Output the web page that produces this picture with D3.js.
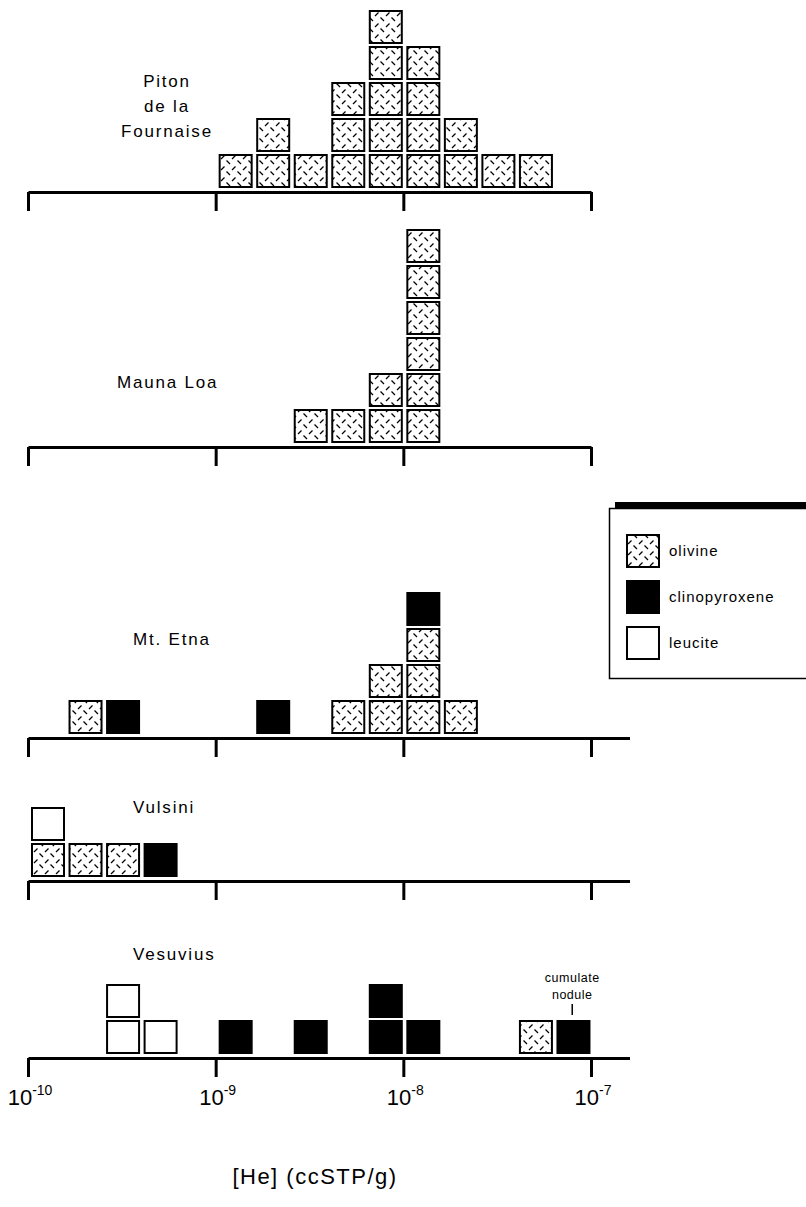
<!DOCTYPE html>
<html>
<head>
<meta charset="utf-8">
<script src="https://d3js.org/d3.v7.min.js"></script>
<style>
  body { margin: 0; background: #fff; }
  text { font-family: "Liberation Sans", Arial, Helvetica, sans-serif; fill: #000; }
</style>
</head>
<body>
<svg width="806" height="1207"></svg>
<script>
// bin centres are log10 of [He] (ccSTP/g); each bin is 0.2 decades wide
const pitonBins = [-8.9, -8.7, -8.5, -8.3, -8.1, -7.9, -7.7, -7.5, -7.3];
const pitonOlivine = [1, 2, 1, 3, 5, 4, 2, 1, 1];

const maunaBins = [-8.5, -8.3, -8.1, -7.9];
const maunaOlivine = [1, 1, 2, 6];

const etnaBins = [-9.7, -9.5, -8.7, -8.3, -8.1, -7.9, -7.7];
const etnaOlivine = [1, 0, 0, 1, 2, 3, 1];
const etnaCpx = [0, 1, 1, 0, 0, 1, 0];

const vulsiniBins = [-9.9, -9.7, -9.5, -9.3];
const vulsiniOlivine = [1, 1, 1, 0];
const vulsiniCpx = [0, 0, 0, 1];
const vulsiniLeucite = [1, 0, 0, 0];

const vesuviusBins = [-9.5, -9.3, -8.9, -8.5, -8.1, -7.9, -7.3, -7.1];
const vesuviusOlivine = [0, 0, 0, 0, 0, 0, 1, 0];
const vesuviusCpx = [0, 0, 1, 1, 2, 1, 0, 1];
const vesuviusLeucite = [2, 1, 0, 0, 0, 0, 0, 0];

const tickExponents = [-10, -9, -8, -7];
const minerals = ["olivine", "clinopyroxene", "leucite"];
const binWidth = 0.2;

const none = n => new Array(n).fill(0);

const panels = [
  { label: ["Piton", "de la", "Fournaise"], bins: pitonBins,
    counts: [pitonOlivine, none(9), none(9)], axisY: 192, axisEnd: 591,
    lx: 167, ly: 87, anchor: "middle" },
  { label: ["Mauna Loa"], bins: maunaBins,
    counts: [maunaOlivine, none(4), none(4)], axisY: 447, axisEnd: 591,
    lx: 117, ly: 388, anchor: "start" },
  { label: ["Mt. Etna"], bins: etnaBins,
    counts: [etnaOlivine, etnaCpx, none(7)], axisY: 738, axisEnd: 630,
    lx: 133, ly: 645, anchor: "start" },
  { label: ["Vulsini"], bins: vulsiniBins,
    counts: [vulsiniOlivine, vulsiniCpx, vulsiniLeucite], axisY: 881, axisEnd: 630,
    lx: 133, ly: 813, anchor: "start" },
  { label: ["Vesuvius"], bins: vesuviusBins,
    counts: [vesuviusOlivine, vesuviusCpx, vesuviusLeucite], axisY: 1058, axisEnd: 630,
    lx: 133, ly: 960, anchor: "start" }
];

const svg = d3.select("svg");

// olivine hatch: short dashes in both diagonal directions
const pat = svg.append("defs").append("pattern")
  .attr("id", "oliv").attr("patternUnits", "userSpaceOnUse")
  .attr("width", 11).attr("height", 11);
pat.append("rect").attr("width", 11).attr("height", 11).attr("fill", "#fff");
[[1, 5, 4.5, 1.5], [6.5, 6.5, 10, 10]].forEach(s => {
  pat.append("line").attr("x1", s[0]).attr("y1", s[1]).attr("x2", s[2]).attr("y2", s[3])
    .attr("stroke", "#000").attr("stroke-width", 1.2);
});

const fills = { olivine: "url(#oliv)", clinopyroxene: "#000", leucite: "#fff" };

const x = d3.scaleLog().domain([1e-10, 1e-7]).range([28, 591]);
const boxSize = 34, rowStep = 36;

panels.forEach(p => {
  // stack boxes bottom-up: olivine, then clinopyroxene, then leucite
  const boxes = [];
  p.bins.forEach((b, i) => {
    let row = 0;
    minerals.forEach((m, mi) => {
      for (let k = 0; k < p.counts[mi][i]; k++) boxes.push({ bin: b, mineral: m, row: row++ });
    });
  });
  const y = d3.scaleLinear().domain([0, 1]).range([p.axisY - 4 - boxSize, p.axisY - 4 - boxSize - rowStep]);

  svg.append("g").selectAll("rect")
    .data(boxes).enter().append("rect")
    .attr("x", d => x(Math.pow(10, d.bin - binWidth / 2)) + 4)
    .attr("y", d => y(d.row) + 1)
    .attr("width", boxSize - 2)
    .attr("height", boxSize - 2)
    .attr("fill", d => fills[d.mineral])
    .attr("stroke", "#000")
    .attr("stroke-width", 2);

  const ax = svg.append("g").attr("transform", `translate(0,${p.axisY})`)
    .call(d3.axisBottom(x).tickValues(tickExponents.map(e => Math.pow(10, e)))
      .tickSize(19).tickSizeOuter(0).tickFormat(""));
  ax.selectAll("path, line").attr("stroke", "#000").attr("stroke-width", 3);
  if (p.axisEnd > 591) {
    svg.append("line").attr("x1", 590).attr("x2", p.axisEnd)
      .attr("y1", p.axisY + 0.5).attr("y2", p.axisY + 0.5)
      .attr("stroke", "#000").attr("stroke-width", 3);
  }

  const t = svg.append("text").attr("x", p.lx).attr("y", p.ly)
    .attr("text-anchor", p.anchor).style("font-size", "17px").style("letter-spacing", "1.8px");
  p.label.forEach((s, i) => {
    t.append("tspan").attr("x", p.lx).attr("dy", i === 0 ? 0 : 25).text(s);
  });
});

// tick labels under the last panel
const last = panels[panels.length - 1];
tickExponents.forEach(e => {
  const t = svg.append("text").attr("x", x(Math.pow(10, e)) + 2).attr("y", last.axisY + 47)
    .attr("text-anchor", "middle").style("font-size", "22px");
  t.append("tspan").text("10");
  t.append("tspan").attr("dy", -10).style("font-size", "14px").text("-" + Math.abs(e));
});

// cumulate nodule annotation
const nodX = x(Math.pow(10, -7.1));
svg.append("text").attr("x", nodX).attr("y", 982).attr("text-anchor", "middle")
  .style("font-size", "12.5px").style("letter-spacing", "0.5px").text("cumulate");
svg.append("text").attr("x", nodX).attr("y", 999).attr("text-anchor", "middle")
  .style("font-size", "12.5px").style("letter-spacing", "0.5px").text("nodule");
svg.append("line").attr("x1", nodX).attr("x2", nodX).attr("y1", 1004).attr("y2", 1015)
  .attr("stroke", "#000").attr("stroke-width", 1.5);

// axis title
svg.append("text").attr("x", 315).attr("y", 1184).attr("text-anchor", "middle")
  .style("font-size", "22px").style("letter-spacing", "1.5px").text("[He] (ccSTP/g)");

// legend
svg.append("rect").attr("x", 615).attr("y", 502).attr("width", 195).attr("height", 7).attr("fill", "#000");
svg.append("rect").attr("x", 609.5).attr("y", 508.5).attr("width", 200).attr("height", 170)
  .attr("fill", "#fff").attr("stroke", "#000").attr("stroke-width", 1.5);
const legY = d3.scalePoint().domain(minerals).range([551, 643]);
const leg = svg.append("g").selectAll("g").data(minerals).enter().append("g");
leg.append("rect")
  .attr("x", 627).attr("y", d => legY(d) - 16)
  .attr("width", 32).attr("height", 32)
  .attr("fill", d => fills[d]).attr("stroke", "#000").attr("stroke-width", 2);
leg.append("text")
  .attr("x", 669).attr("y", d => legY(d) + 5)
  .style("font-size", "15px").style("letter-spacing", "1px")
  .text(d => d);
</script>
</body>
</html>
